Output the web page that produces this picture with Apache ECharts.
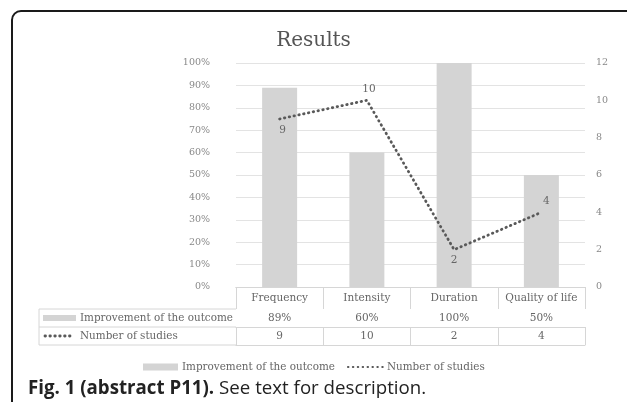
<!DOCTYPE html>
<html><head><meta charset="utf-8">
<script src="https://cdn.jsdelivr.net/npm/echarts@6/dist/echarts.min.js"></script>
<style>html,body{margin:0;padding:0;background:#fff}#c{width:627px;height:402px}</style>
</head><body><div id="c"></div>
<script>
var categories = ['Frequency', 'Intensity', 'Duration', 'Quality of life'];
var improvement = [89, 60, 100, 50];
var studies = [9, 10, 2, 4];
var leftTicks = {min: 0, max: 100, interval: 10};
var rightTicks = {min: 0, max: 12, interval: 2};
var barName = 'Improvement of the outcome';
var lineName = 'Number of studies';

var SERIF = 'DejaVu Serif';
var TXT = '#666';
var BORDER = '#d6d6d6';
var GL = 236, GR = 42, GT = 63, GB = 115;
var H = 402, W = 627;
var axisY = H - GB;
var labelPos = ['bottom', 'top', 'bottom', 'top'];
var labelShift = [[3, 0], [2, 0], [0, 0], [5, 0]];
var DOT = {color: '#595959', width: 2.8, type: [0.5, 4.4], cap: 'round'};

var chart = echarts.init(document.getElementById('c'));

function cellAxis(data, offset, tickLen, showLabel) {
  return {
    type: 'category', position: 'bottom', data: data, offset: offset,
    axisLine: {show: true, lineStyle: {color: BORDER, width: 1}},
    axisTick: {show: tickLen > 0, length: tickLen, interval: 0, lineStyle: {color: BORDER}},
    axisLabel: {show: showLabel, interval: 0, margin: 4, color: TXT, fontFamily: SERIF, fontSize: 10.5},
    splitLine: {show: false}
  };
}

var xAxes = [
  cellAxis(categories, 0, 22, true),
  cellAxis(improvement.map(function (v) { return v + '%'; }), 22, 18, true),
  cellAxis(studies.map(String), 40, 18, true),
  cellAxis(categories.map(function () { return ''; }), 58, 0, false)
];
xAxes[0].axisLabel.margin = 6;

var option = {
  backgroundColor: '#fff',
  animation: false,
  title: {text: 'Results', left: 'center', top: 26,
    textStyle: {fontFamily: SERIF, fontSize: 20, fontWeight: 'normal', color: '#555'}},
  grid: {left: GL, right: GR, top: GT, bottom: GB},
  legend: {
    top: 357, left: 138, itemWidth: 35, itemHeight: 7, itemGap: 12,
    textStyle: {fontFamily: SERIF, fontSize: 10.4, color: TXT, padding: [0, 0, 0, -1]},
    data: [{name: barName, icon: 'rect'}, {name: lineName}]
  },
  xAxis: xAxes,
  yAxis: [
    {type: 'value', min: leftTicks.min, max: leftTicks.max, interval: leftTicks.interval,
      axisLabel: {formatter: '{value}%', color: '#888', fontFamily: SERIF, fontSize: 9.5, margin: 26},
      axisLine: {show: false}, axisTick: {show: false},
      splitLine: {lineStyle: {color: '#e3e3e3', width: 1}}},
    {type: 'value', min: rightTicks.min, max: rightTicks.max, interval: rightTicks.interval,
      axisLabel: {color: '#888', fontFamily: SERIF, fontSize: 9.5, margin: 11},
      axisLine: {show: false}, axisTick: {show: false}, splitLine: {show: false}}
  ],
  series: [
    {name: barName, type: 'bar', xAxisIndex: 0, yAxisIndex: 0, data: improvement,
      barWidth: 35, itemStyle: {color: '#d4d4d4'}},
    {name: lineName, type: 'line', xAxisIndex: 0, yAxisIndex: 1,
      data: studies.map(function (v, i) { return {value: v, label: {position: labelPos[i], offset: labelShift[i]}}; }),
      symbol: 'circle', symbolSize: 1, showSymbol: true, z: 5,
      lineStyle: DOT,
      itemStyle: {color: 'rgba(0,0,0,0)'},
      label: {show: true, color: TXT, fontFamily: SERIF, fontSize: 10.5, distance: 5}}
  ],
  graphic: [
    {type: 'rect', shape: {x: 12, y: 11, width: 660, height: 440, r: 9},
      style: {fill: 'none', stroke: '#1a1a1a', lineWidth: 2}, z: 100},
    {type: 'line', shape: {x1: 39, y1: axisY + 22, x2: GL, y2: axisY + 22}, style: {stroke: BORDER, lineWidth: 1}},
    {type: 'line', shape: {x1: 39, y1: axisY + 40, x2: GL, y2: axisY + 40}, style: {stroke: BORDER, lineWidth: 1}},
    {type: 'line', shape: {x1: 39, y1: axisY + 58, x2: GL, y2: axisY + 58}, style: {stroke: BORDER, lineWidth: 1}},
    {type: 'line', shape: {x1: 39, y1: axisY + 22, x2: 39, y2: axisY + 58}, style: {stroke: BORDER, lineWidth: 1}},
    {type: 'rect', shape: {x: 43, y: axisY + 28, width: 33, height: 6}, style: {fill: '#d4d4d4'}},
    {type: 'text', x: 80, y: axisY + 31, style: {text: barName, fill: TXT, font: '10.4px "DejaVu Serif"', verticalAlign: 'middle'}},
    {type: 'line', shape: {x1: 45, y1: axisY + 49, x2: 73, y2: axisY + 49},
      style: {stroke: DOT.color, lineWidth: DOT.width, lineDash: DOT.type, lineCap: 'round'}},
    {type: 'text', x: 80, y: axisY + 49, style: {text: lineName, fill: TXT, font: '10.4px "DejaVu Serif"', verticalAlign: 'middle'}},
    {type: 'text', x: 28, y: 389, style: {
      text: '{b|Fig. 1 (abstract P11).} See text for description.',
      font: '18.7px "Open Sans"', fill: '#222', verticalAlign: 'middle',
      rich: {b: {fontWeight: 'bold', fontFamily: 'Open Sans', fontSize: 18.7, fill: '#222'}}}}
  ]
};
chart.setOption(option);
</script></body></html>
